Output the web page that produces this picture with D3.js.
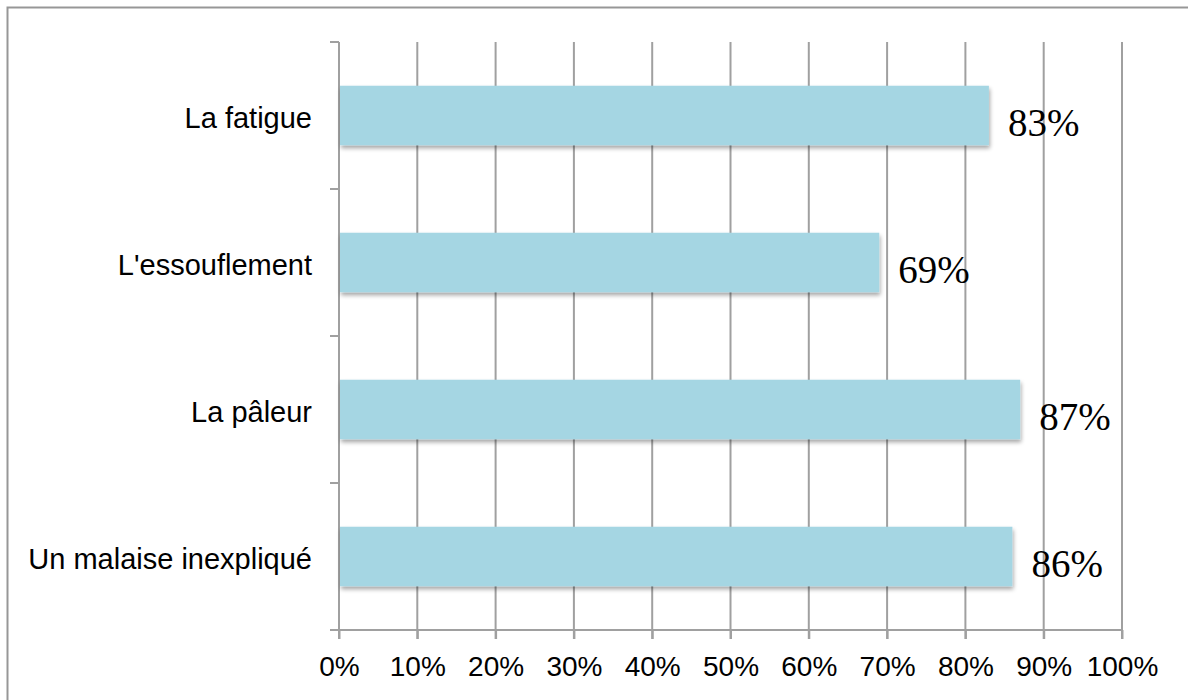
<!DOCTYPE html>
<html><head><meta charset="utf-8">
<script src="https://cdn.jsdelivr.net/npm/d3@7"></script>
<style>body{margin:0;background:#fff}svg{display:block}</style>
</head><body><svg id="c" width="1188" height="700"></svg>
<script>
const categories = ["La fatigue", "L'essouflement", "La pâleur", "Un malaise inexpliqué"];
const values = [83, 69, 87, 86];
const valueLabels = ["83%", "69%", "87%", "86%"];
const xTicks = [0, 10, 20, 30, 40, 50, 60, 70, 80, 90, 100];
const xTickLabels = xTicks.map(d => d + "%");

const svg = d3.select("#c");
const L = 339, R = 1122, T = 42, B = 630;
const x = d3.scaleLinear().domain([0, 100]).range([L, R]);
const y = d3.scaleBand().domain(categories).range([T, B]).paddingInner(0.595).paddingOuter(0.2975);

// outer border
svg.append("rect").attr("x", 7.5).attr("y", 7.5).attr("width", 1300).attr("height", 800)
  .attr("fill", "none").attr("stroke", "#979797").attr("stroke-width", 2);

const defs = svg.append("defs");
const f = defs.append("filter").attr("id", "sh").attr("x", "-5%").attr("y", "-20%").attr("width", "115%").attr("height", "160%");
f.append("feGaussianBlur").attr("in", "SourceAlpha").attr("stdDeviation", 2);
f.append("feOffset").attr("dx", 1).attr("dy", 3).attr("result", "o");
f.append("feComponentTransfer").append("feFuncA").attr("type", "linear").attr("slope", 0.35);
const m = f.append("feMerge"); m.append("feMergeNode"); m.append("feMergeNode").attr("in", "SourceGraphic");

// gridlines
svg.append("g").selectAll("line").data(xTicks.slice(1)).join("line")
  .attr("x1", d => x(d)).attr("x2", d => x(d)).attr("y1", T).attr("y2", B + 9)
  .attr("stroke", "#a0a0a0").attr("stroke-width", 2);

// x axis
const xa = svg.append("g").attr("transform", `translate(0,${B})`)
  .call(d3.axisBottom(x).tickValues(xTicks).tickFormat((d, i) => xTickLabels[i]).tickSize(9).tickPadding(17));
xa.select(".domain").remove();
svg.append("line").attr("x1", L).attr("x2", R).attr("y1", B).attr("y2", B).attr("stroke", "#a0a0a0").attr("stroke-width", 2);
xa.selectAll("line").attr("stroke", "#a0a0a0").attr("stroke-width", 2);
xa.selectAll("text").attr("font-family", "Liberation Sans, Arial, sans-serif").attr("font-size", 28).attr("fill", "#000");

// y axis
const ticksY = d3.range(categories.length + 1).map(i => T + i * (B - T) / categories.length);
svg.append("line").attr("x1", L).attr("x2", L).attr("y1", T).attr("y2", B + 9).attr("stroke", "#a0a0a0").attr("stroke-width", 2);
svg.append("g").selectAll("line").data(ticksY).join("line")
  .attr("x1", L - 9).attr("x2", L).attr("y1", d => d).attr("y2", d => d)
  .attr("stroke", "#a0a0a0").attr("stroke-width", 2);
svg.append("g").selectAll("text").data(categories).join("text")
  .attr("x", 312).attr("y", d => y(d) + y.bandwidth() / 2 + 2).attr("dy", "0.35em")
  .attr("text-anchor", "end").attr("font-family", "Liberation Sans, Arial, sans-serif").attr("font-size", 29)
  .attr("fill", "#000").text(d => d);

// bars
svg.append("g").selectAll("rect").data(categories).join("rect")
  .attr("x", x(0) + 1).attr("y", d => y(d)).attr("width", (d, i) => x(values[i]) - x(0) - 1)
  .attr("height", y.bandwidth()).attr("fill", "#a5d6e3").attr("filter", "url(#sh)");

// value labels
svg.append("g").selectAll("text").data(categories).join("text")
  .attr("x", (d, i) => x(values[i]) + 19).attr("y", d => y(d) + y.bandwidth() / 2 + 20)
  .attr("font-family", "Liberation Serif, DejaVu Serif, serif").attr("font-size", 39)
  .attr("fill", "#000").text((d, i) => valueLabels[i]);
</script></body></html>
